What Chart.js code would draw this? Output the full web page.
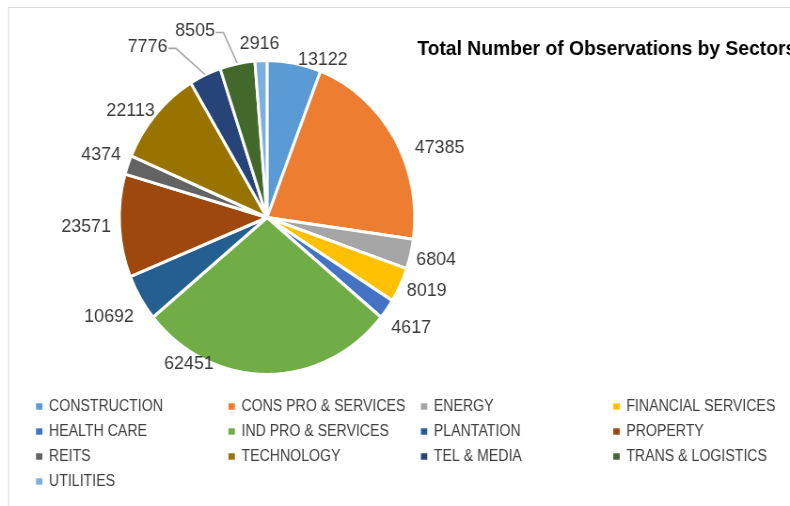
<!DOCTYPE html>
<html><head><meta charset="utf-8">
<script src="https://cdn.jsdelivr.net/npm/chart.js@4.4.1/dist/chart.umd.min.js"></script>
<style>
html,body{margin:0;padding:0;background:#fff;overflow:hidden;width:790px;height:506px;}
#wrap{position:absolute;left:0;top:0;width:840px;height:506px;transform:scaleX(0.94048);transform-origin:0 0;}
</style></head><body>
<div id="wrap"><canvas id="c"></canvas></div>
<script>
const sectors = ['CONSTRUCTION','CONS PRO & SERVICES','ENERGY','FINANCIAL SERVICES','HEALTH CARE','IND PRO & SERVICES','PLANTATION','PROPERTY','REITS','TECHNOLOGY','TEL & MEDIA','TRANS & LOGISTICS','UTILITIES'];
const observations = [13122,47385,6804,8019,4617,62451,10692,23571,4374,22113,7776,8505,2916];
const sectorColors = ['#5B9BD5','#ED7D31','#A5A5A5','#FFC000','#4472C4','#70AD47','#255E91','#9E480E','#636363','#997300','#264478','#43682B','#7CAFDD'];
const titleText = 'Total Number of Observations by Sectors';
// data-label placement (degrees clockwise from 12 o'clock, distance beyond pie edge)
const labelAngles = [20.5,69.0,102.9,113.0,125.6,209.8,239.7,267.6,289.8,306.5,323.5,337.8,357.4];
const labelGaps = [14,41,29,29,33,11.5,39,37,32,25,58,47,19];
const leaderLine = [false,false,false,false,false,false,false,false,false,false,true,true,false];

const FONT = '"Liberation Sans", Arial, sans-serif';

const decor = {
  id: 'decor',
  beforeDraw(chart) {
    const ctx = chart.ctx;
    ctx.save();
    ctx.fillStyle = '#fff';
    ctx.fillRect(0, 0, chart.width, chart.height);
    ctx.strokeStyle = '#D9D9D9';
    ctx.lineWidth = 1.1;
    ctx.beginPath();
    ctx.moveTo(9, chart.height + 2);
    ctx.lineTo(9, 7.5);
    ctx.lineTo(chart.width + 2, 7.5);
    ctx.stroke();
    ctx.restore();
  },
  afterDraw(chart) {
    const ctx = chart.ctx;
    const meta = chart.getDatasetMeta(0);
    ctx.save();
    // title
    ctx.font = 'bold 20.5px ' + FONT;
    ctx.fillStyle = '#000';
    ctx.textAlign = 'left';
    ctx.textBaseline = 'alphabetic';
    ctx.fillText(titleText, 443.7, 54.5);
    // data labels
    ctx.font = '19px ' + FONT;
    ctx.textAlign = 'center';
    ctx.textBaseline = 'middle';
    meta.data.forEach((arc, i) => {
      const R = arc.outerRadius - arc.options.borderWidth / 2;
      const a = labelAngles[i] * Math.PI / 180;
      const r = R + labelGaps[i];
      const x = arc.x + r * Math.sin(a);
      const y = arc.y - r * Math.cos(a);
      const txt = String(chart.data.datasets[0].data[i]);
      ctx.fillStyle = '#3A3A3A';
      ctx.fillText(txt, x, y + 1);
      if (leaderLine[i]) {
        const w = ctx.measureText(txt).width;
        const mid = (arc.startAngle + arc.endAngle) / 2;
        const sx = arc.x + (R + 2) * Math.cos(mid);
        const sy = arc.y + (R + 2) * Math.sin(mid);
        ctx.strokeStyle = '#A6A6A6';
        ctx.lineWidth = 1.6;
        ctx.beginPath();
        ctx.moveTo(sx, sy);
        ctx.lineTo(x + w / 2 + 9, y + 2.5);
        ctx.lineTo(x + w / 2 + 1, y + 2.5);
        ctx.stroke();
      }
    });
    // legend grid
    ctx.font = '16px ' + FONT;
    ctx.textAlign = 'left';
    ctx.textBaseline = 'middle';
    const colX = 38.3, colW = 204.6, rowY = 406.5, rowH = 25;
    chart.data.labels.forEach((lab, i) => {
      const col = i % 4, row = Math.floor(i / 4);
      const mx = colX + col * colW, my = rowY + row * rowH;
      ctx.fillStyle = chart.data.datasets[0].backgroundColor[i];
      ctx.fillRect(mx, my - 3.2, 6.8, 6.4);
      ctx.fillStyle = '#404040';
      ctx.save();
      ctx.translate(mx + 13.8, my + 0.5);
      ctx.scale(0.94, 1);
      ctx.fillText(lab, 0, 0);
      ctx.restore();
    });
    ctx.restore();
  }
};

new Chart(document.getElementById('c'), {
  type: 'pie',
  data: {
    labels: sectors,
    datasets: [{
      data: observations,
      backgroundColor: sectorColors,
      borderColor: '#FFFFFF',
      borderWidth: 3,
      radius: 157
    }]
  },
  options: {
    responsive: true,
    maintainAspectRatio: false,
    animation: false,
    events: [],
    layout: { padding: { left: 110, right: 382.2, top: 60, bottom: 131 } },
    plugins: { legend: { display: false }, tooltip: { enabled: false }, title: { display: false } }
  },
  plugins: [decor]
});
</script>
</body></html>
